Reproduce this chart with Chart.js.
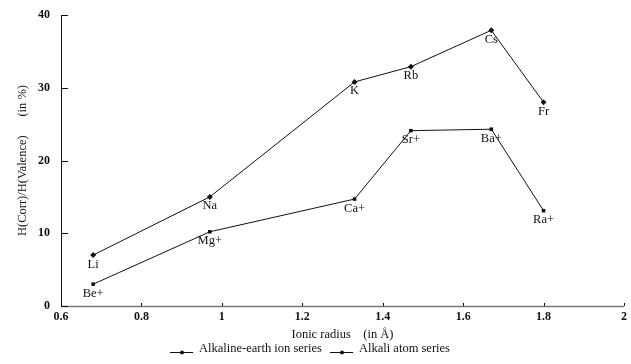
<!DOCTYPE html>
<html>
<head>
<meta charset="utf-8">
<script src="https://cdn.jsdelivr.net/npm/chart.js@4"></script>
<style>
  html, body { margin: 0; padding: 0; background: #fff; }
  #wrap { width: 631px; height: 364px; position: relative; }
</style>
</head>
<body>
<div id="wrap"><canvas id="mycanvas"></canvas></div>
<script>
// ionic radius (in Angstrom) and H(Corr)/H(Valence) in %
var earthRadius = [0.68, 0.97, 1.33, 1.47, 1.67, 1.80];
var earthValues = [3.0, 10.2, 14.7, 24.1, 24.3, 13.1];
var earthNames = ['Be+', 'Mg+', 'Ca+', 'Sr+', 'Ba+', 'Ra+'];

var alkaliRadius = [0.68, 0.97, 1.33, 1.47, 1.67, 1.80];
var alkaliValues = [7.0, 15.0, 30.8, 32.9, 37.9, 28.0];
var alkaliNames = ['Li', 'Na', 'K', 'Rb', 'Cs', 'Fr'];

var xTicks = [0.6, 0.8, 1, 1.2, 1.4, 1.6, 1.8, 2];
var yTicks = [0, 10, 20, 30, 40];

var seriesNames = ['Alkaline-earth ion series', 'Alkali atom series'];

var serif = "'Liberation Serif', 'Times New Roman', serif";

function toPoints(xs, ys) {
	var pts = [];
	for (var i = 0; i < xs.length; i++) {
		pts.push({ x: xs[i], y: ys[i] });
	}
	return pts;
}

// element names written under each point
var pointLabels = {
	id: 'pointLabels',
	afterDatasetsDraw: function(chart) {
		var ctx = chart.ctx;
		var names = [earthNames, alkaliNames];
		ctx.save();
		ctx.fillStyle = '#111';
		ctx.font = '12.5px ' + serif;
		ctx.textAlign = 'center';
		ctx.textBaseline = 'top';
		for (var d = 0; d < chart.data.datasets.length; d++) {
			var meta = chart.getDatasetMeta(d);
			for (var i = 0; i < meta.data.length; i++) {
				var p = meta.data[i];
				ctx.fillText(names[d][i], p.x, p.y + 3);
			}
		}
		ctx.restore();
	}
};

// axis lines with tick marks pointing inward
var axesPlugin = {
	id: 'axesPlugin',
	afterDraw: function(chart) {
		var ctx = chart.ctx;
		var xs = chart.scales.x, ys = chart.scales.y;
		var a = chart.chartArea;
		ctx.save();
		ctx.strokeStyle = '#777';
		ctx.lineWidth = 1.5;
		ctx.beginPath();
		ctx.moveTo(a.left, a.bottom + 0.5);
		ctx.lineTo(a.right, a.bottom + 0.5);
		ctx.stroke();
		ctx.strokeStyle = '#111';
		ctx.lineWidth = 1;
		ctx.beginPath();
		ctx.moveTo(a.left + 0.5, a.top);
		ctx.lineTo(a.left + 0.5, a.bottom + 1);
		for (var i = 0; i < yTicks.length; i++) {
			var py = Math.round(ys.getPixelForValue(yTicks[i])) + 0.5;
			ctx.moveTo(a.left, py);
			ctx.lineTo(a.left + 7, py);
		}
		for (var j = 0; j < xTicks.length; j++) {
			var px = Math.round(xs.getPixelForValue(xTicks[j])) + 0.5;
			ctx.moveTo(px, a.bottom);
			ctx.lineTo(px, a.bottom - 3);
		}
		ctx.stroke();
		ctx.restore();
	}
};

// legend at the bottom: short line with marker, then the name
var bottomLegend = {
	id: 'bottomLegend',
	afterDraw: function(chart) {
		var ctx = chart.ctx;
		var starts = [170, 330];
		var y = 352;
		ctx.save();
		ctx.font = '12.5px ' + serif;
		ctx.textBaseline = 'middle';
		ctx.textAlign = 'left';
		for (var i = 0; i < seriesNames.length; i++) {
			var x0 = starts[i];
			ctx.strokeStyle = '#111';
			ctx.lineWidth = 1;
			ctx.beginPath();
			ctx.moveTo(x0, y + 0.5);
			ctx.lineTo(x0 + 23, y + 0.5);
			ctx.stroke();
			ctx.fillStyle = '#111';
			ctx.beginPath();
			ctx.arc(x0 + 12, y + 0.5, 2, 0, Math.PI * 2);
			ctx.fill();
			ctx.fillText(seriesNames[i], x0 + 29, y - 3);
		}
		ctx.restore();
	}
};

var ctx = document.getElementById('mycanvas');

var chart = new Chart(ctx, {
	type: 'line',
	data: {
		datasets: [
			{
				label: seriesNames[0],
				data: toPoints(earthRadius, earthValues),
				borderColor: '#111',
				backgroundColor: '#111',
				borderWidth: 1,
				pointStyle: 'rect',
				pointRadius: 2.5,
				pointBorderWidth: 0,
				tension: 0
			},
			{
				label: seriesNames[1],
				data: toPoints(alkaliRadius, alkaliValues),
				borderColor: '#111',
				backgroundColor: '#111',
				borderWidth: 1,
				pointStyle: 'rectRot',
				pointRadius: 3,
				pointBorderWidth: 0,
				tension: 0
			}
		]
	},
	options: {
		responsive: true,
		maintainAspectRatio: false,
		animation: false,
		layout: { padding: { left: 0, right: 7, top: 15, bottom: 22 } },
		plugins: {
			legend: { display: false },
			tooltip: { enabled: false }
		},
		scales: {
			x: {
				type: 'linear',
				min: 0.6,
				max: 2,
				afterBuildTicks: function(scale) {
					scale.ticks = xTicks.map(function(v) { return { value: v }; });
				},
				afterFit: function(scale) {
					scale.height = 36;
					scale.paddingLeft = 0;
					scale.paddingRight = 0;
				},
				grid: { display: false, drawTicks: false },
				border: { display: false },
				ticks: {
					padding: 4,
					color: '#111',
					font: { family: serif, size: 12, weight: 'bold' },
					maxRotation: 0,
					callback: function(v) { return String(Math.round(v * 10) / 10); }
				},
				title: {
					display: true,
					text: 'Ionic radius    (in Å)',
					color: '#111',
					font: { family: serif, size: 12.5 },
					padding: { top: 0, bottom: 0 }
				}
			},
			y: {
				min: 0,
				max: 40,
				afterBuildTicks: function(scale) {
					scale.ticks = yTicks.map(function(v) { return { value: v }; });
				},
				afterFit: function(scale) {
					scale.width = 61;
					scale.paddingTop = 0;
					scale.paddingBottom = 0;
				},
				grid: { display: false, drawTicks: false },
				border: { display: false },
				ticks: {
					padding: 11,
					color: '#111',
					font: { family: serif, size: 12, weight: 'bold' }
				},
				title: {
					display: true,
					text: 'H(Corr)/H(Valence)      (in %)',
					color: '#111',
					font: { family: serif, size: 12.5 },
					padding: { top: 15, bottom: 0 }
				}
			}
		}
	},
	plugins: [pointLabels, axesPlugin, bottomLegend]
});
</script>
</body>
</html>
